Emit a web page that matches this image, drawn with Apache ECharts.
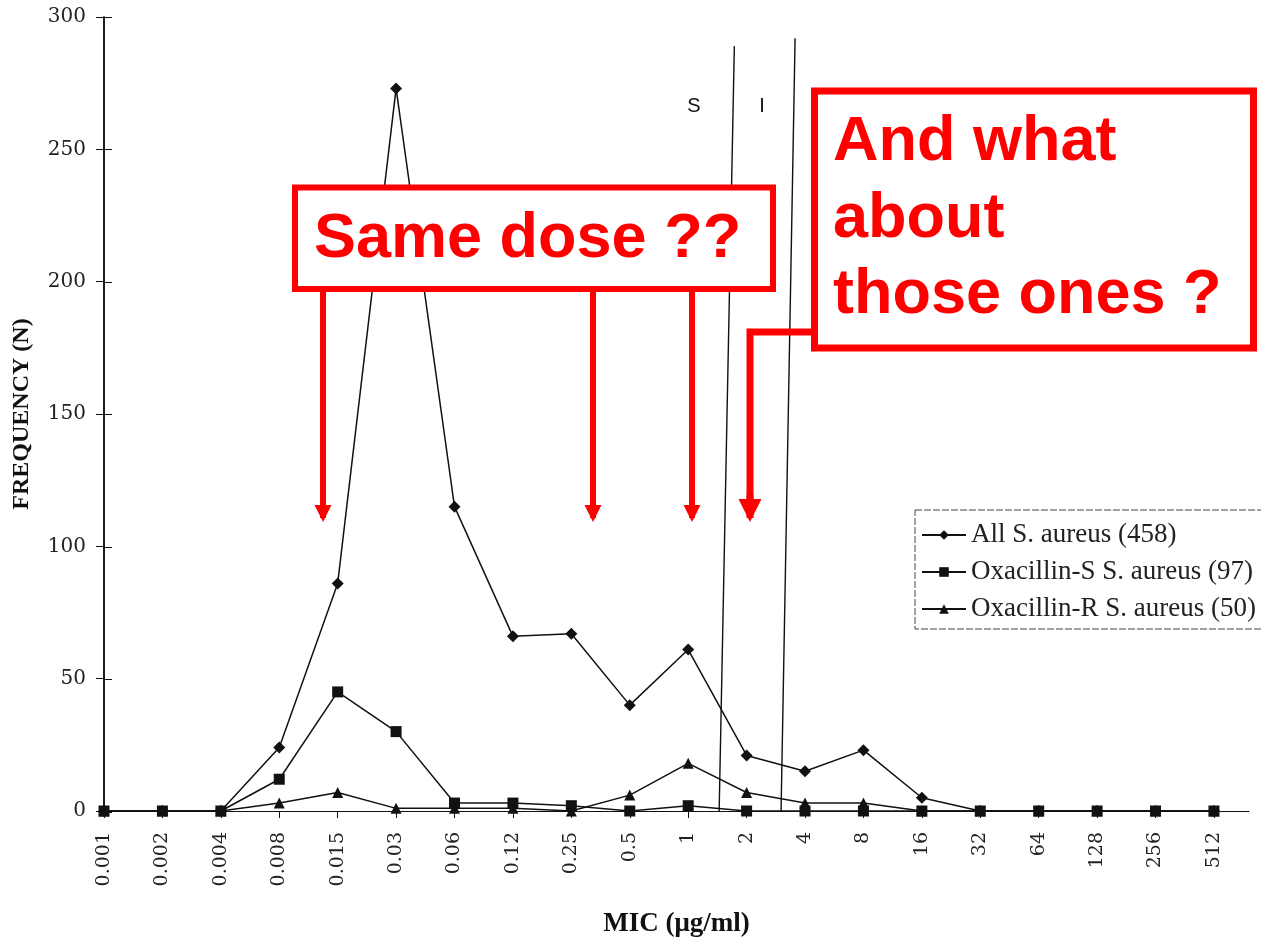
<!DOCTYPE html>
<html>
<head>
<meta charset="utf-8">
<title>MIC distribution - S. aureus</title>
<script src="https://cdn.jsdelivr.net/npm/echarts@6/dist/echarts.min.js"></script>
<style>
  html, body { margin: 0; padding: 0; background: #fff; }
  #chart { width: 1261px; height: 943px; }
</style>
</head>
<body>
<div id="chart"></div>
<script>
// MIC categories (ug/ml)
const micLabels = ['0.001', '0.002', '0.004', '0.008', '0.015', '0.03', '0.06', '0.12', '0.25', '0.5',
  '1', '2', '4', '8', '16', '32', '64', '128', '256', '512']

// frequencies (N) per MIC
const allAureus = [0, 0, 0, 24, 86, 273, 115, 66, 67, 40, 61, 21, 15, 23, 5, 0, 0, 0, 0, 0]
const oxaSusceptible = [0, 0, 0, 12, 45, 30, 3, 3, 2, 0, 2, 0, 0, 0, 0, 0, 0, 0, 0, 0]
const oxaResistant = [0, 0, 0, 3, 7, 1, 1, 1, 0, 6, 18, 7, 3, 3, 0, 0, 0, 0, 0, 0]

const seriesNames = ['All S. aureus (458)', 'Oxacillin-S S. aureus (97)', 'Oxacillin-R S. aureus (50)']

// S / I breakpoint lines (slightly slanted on the scan): [mic index, N]
const breakS = [[10.53, 0], [10.79, 289]]
const breakI = [[11.59, 0], [11.83, 292]]

const serif = "'Liberation Serif', 'DejaVu Serif', serif"
const tickFont = "'DejaVu Serif', serif"
const sans = "'Liberation Sans', Arial, sans-serif"
const red = '#ff0000'

const chart = echarts.init(document.getElementById('chart'))

function lineSeries(name, values, symbol, size) {
  return {
    name: name,
    type: 'line',
    data: values.map((v, i) => [i, v]),
    symbol: symbol,
    symbolSize: size,
    itemStyle: { color: '#111' },
    lineStyle: { color: '#111', width: 1.5 },
    z: 3
  }
}

const series = [
  lineSeries(seriesNames[0], allAureus, 'diamond', 12),
  lineSeries(seriesNames[1], oxaSusceptible, 'rect', 11),
  lineSeries(seriesNames[2], oxaResistant, 'triangle', 11)
]
series[0].markLine = {
  silent: true,
  symbol: ['none', 'none'],
  label: { show: false },
  lineStyle: { color: '#111', type: 'solid', width: 1.4 },
  data: [
    [{ coord: breakS[0] }, { coord: breakS[1] }],
    [{ coord: breakI[0] }, { coord: breakI[1] }]
  ]
}

// red annotation arrows
function arrow(x, y0, y1, w, head) {
  return [
    { type: 'line', z: 100, shape: { x1: x, y1: y0, x2: x, y2: y1 - 4 }, style: { stroke: red, lineWidth: w } },
    { type: 'polygon', z: 100, shape: { points: [[x - head / 2, y1 - head], [x + head / 2, y1 - head], [x, y1]] }, style: { fill: red } }
  ]
}

const graphics = [
  // legend frame
  { type: 'rect', z: 50, shape: { x: 915, y: 510, width: 352, height: 119 },
    style: { fill: null, stroke: '#444', lineWidth: 1, lineDash: [7, 2] } },
  // S / I labels
  { type: 'text', z: 50, style: { x: 694, y: 106, text: 'S', font: '20px ' + sans, fill: '#111', align: 'center', verticalAlign: 'middle' } },
  { type: 'text', z: 50, style: { x: 762, y: 106, text: 'I', font: '20px ' + sans, fill: '#111', align: 'center', verticalAlign: 'middle' } },
  // box 1
  { type: 'rect', z: 100, shape: { x: 295, y: 187.5, width: 478, height: 101.5 },
    style: { fill: '#fff', stroke: red, lineWidth: 6 } },
  { type: 'text', z: 101, style: { x: 314, y: 240, text: 'Same dose ??', font: 'bold 63px ' + sans, fill: red, verticalAlign: 'middle' } },
  // box 2
  { type: 'rect', z: 100, shape: { x: 814.5, y: 91, width: 439, height: 257 },
    style: { fill: '#fff', stroke: red, lineWidth: 7 } },
  { type: 'text', z: 101, style: { x: 833, y: 143, text: 'And what', font: 'bold 63px ' + sans, fill: red, verticalAlign: 'middle' } },
  { type: 'text', z: 101, style: { x: 833, y: 220, text: 'about', font: 'bold 63px ' + sans, fill: red, verticalAlign: 'middle' } },
  { type: 'text', z: 101, style: { x: 833, y: 296, text: 'those ones ?', font: 'bold 63px ' + sans, fill: red, verticalAlign: 'middle' } },
  // connector from box 2
  { type: 'polyline', z: 100, shape: { points: [[811, 332], [750, 332], [750, 500]] }, style: { stroke: red, lineWidth: 7, fill: null } }
]
  .concat(arrow(323, 292, 522, 6, 17))
  .concat(arrow(593, 292, 522, 6, 17))
  .concat(arrow(692, 292, 522, 6, 17))
  .concat(arrow(750, 495, 522, 7, 23))

const gridBox = { left: 104, right: 12, top: 17, bottom: 131 }

chart.setOption({
  animation: false,
  backgroundColor: '#fff',
  grid: [gridBox, Object.assign({}, gridBox)],
  legend: {
    data: seriesNames,
    orient: 'vertical',
    left: 921,
    top: 520,
    padding: 0,
    itemWidth: 44,
    itemHeight: 12,
    itemGap: 7,
    selectedMode: false,
    textStyle: { fontFamily: serif, fontSize: 27, color: '#222', lineHeight: 30 }
  },
  xAxis: [
    {
      type: 'value',
      min: 0,
      max: 19.6,
      interval: 1,
      name: 'MIC (\u03bcg/ml)',
      nameLocation: 'middle',
      nameGap: 100,
      nameTextStyle: { fontFamily: serif, fontWeight: 'bold', fontSize: 27, color: '#111' },
      splitLine: { show: false },
      axisLine: { lineStyle: { color: '#111', width: 1.2 } },
      axisTick: { length: 7, lineStyle: { color: '#111' } },
      axisLabel: {
        rotate: 90,
        margin: 21,
        fontFamily: tickFont,
        fontSize: 19,
        color: '#222',
        showMaxLabel: false,
        formatter: v => (Number.isInteger(v) && micLabels[v]) ? micLabels[v] : ''
      }
    },
    { gridIndex: 1, type: 'value', min: 0, max: 19.6, show: false }
  ],
  yAxis: [
    {
      type: 'value',
      min: 0,
      max: 300,
      interval: 50,
      name: 'FREQUENCY (N)',
      nameLocation: 'middle',
      nameGap: 70,
      nameTextStyle: { fontFamily: serif, fontWeight: 'bold', fontSize: 24, color: '#111' },
      splitLine: { show: false },
      axisLine: { show: true, lineStyle: { color: '#111', width: 1.5 } },
      axisTick: { show: true, length: 8, lineStyle: { color: '#111' } },
      axisLabel: { margin: 18, fontFamily: tickFont, fontSize: 20, color: '#222' }
    },
    {
      // inner half of the crossing tick marks
      gridIndex: 1,
      type: 'value',
      min: 0,
      max: 300,
      interval: 50,
      position: 'left',
      splitLine: { show: false },
      axisLine: { show: true, lineStyle: { color: '#111', width: 1.5 } },
      axisTick: { show: true, inside: true, length: 8, lineStyle: { color: '#111' } },
      axisLabel: { show: false }
    }
  ],
  graphic: graphics,
  series: series
})
</script>
</body>
</html>
